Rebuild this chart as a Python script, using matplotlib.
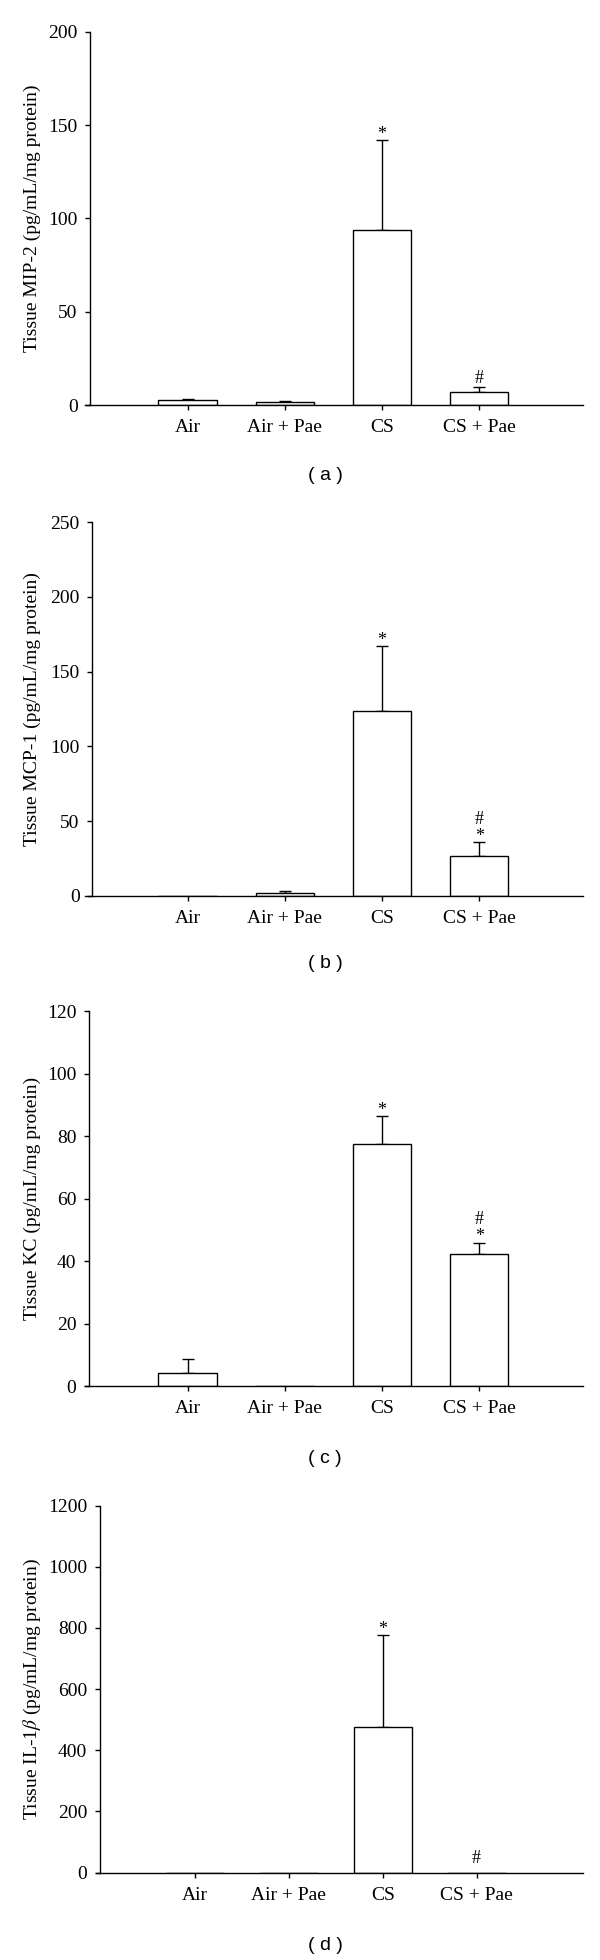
import matplotlib
matplotlib.use("Agg")
import matplotlib.pyplot as plt
import numpy as np
from matplotlib.textpath import TextPath
from matplotlib.font_manager import FontProperties

plt.rcParams['font.family'] = ['Liberation Serif', 'DejaVu Serif']
plt.rcParams['mathtext.fontset'] = 'stix'

# ---------------- data ----------------
categories = ["Air", "Air + Pae", "CS", "CS + Pae"]

mip2_mean = [2.8, 1.6, 93.6, 7.1]
mip2_err = [0.6, 0.7, 48.2, 2.7]
mip2_marks = ["", "", "*", "#"]

mcp1_mean = [0.0, 1.8, 123.9, 26.8]
mcp1_err = [0.0, 1.3, 43.1, 8.9]
mcp1_marks = ["", "", "*", "*#"]

kc_mean = [4.3, 0.0, 77.4, 42.1]
kc_err = [4.4, 0.0, 8.9, 3.8]
kc_marks = ["", "", "*", "*#"]

il1b_mean = [0.0, 0.0, 475.0, 0.0]
il1b_err = [0.0, 0.0, 300.0, 0.0]
il1b_marks = ["", "", "*", "#"]

ylabels = ["Tissue MIP-2 (pg/mL/mg protein)",
           "Tissue MCP-1 (pg/mL/mg protein)",
           "Tissue KC (pg/mL/mg protein)",
           r"Tissue IL-1$\beta$ (pg/mL/mg protein)"]
panel_tags = ["( a )", "( b )", "( c )", "( d )"]
ymaxes = [200, 250, 120, 1200]
ysteps = [50, 50, 20, 200]

# ---------------- layout (pixels) ----------------
W, H = 600, 1960
DPI = 100
fig = plt.figure(figsize=(W / DPI, H / DPI), dpi=DPI)

layout = [
    dict(left=85.4, right=583, top=31.7, bottom=405.0, yspine=90.4, x0=187.5, step=97.25, tag_y=475, width=0.6, extra=None),
    dict(left=85.4, right=583, top=522.3, bottom=895.7, yspine=92.3, x0=187.5, step=97.25, tag_y=963, width=0.6, extra=None),
    dict(left=85.4, right=583, top=1011.0, bottom=1386.0, yspine=89.2, x0=187.5, step=97.25, tag_y=1458, width=0.6, extra=None),
    dict(left=96.2, right=583, top=1505.5, bottom=1872.5, yspine=99.8, x0=195.1, step=93.8, tag_y=1945, width=0.62, extra={3: 5.5}),
]

means = [mip2_mean, mcp1_mean, kc_mean, il1b_mean]
errs = [mip2_err, mcp1_err, kc_err, il1b_err]
marks = [mip2_marks, mcp1_marks, kc_marks, il1b_marks]

FS = 14
MARK_FS = 13
LW = 1.0

mark_fp = FontProperties(family='Liberation Serif', size=MARK_FS)


def ink_center_px(ch):
    tp = TextPath((0, 0), ch, prop=mark_fp)
    bb = tp.get_extents()
    return (bb.y0 + bb.y1) / 2 * DPI / 72.0


for i in range(4):
    L = layout[i]
    ax = fig.add_axes([L['left'] / W, 1 - L['bottom'] / H,
                       (L['right'] - L['left']) / W, (L['bottom'] - L['top']) / H])
    xlo = (L['left'] - L['x0']) / L['step']
    xhi = (L['right'] - L['x0']) / L['step']
    ax.set_xlim(xlo, xhi)
    ax.set_ylim(0, ymaxes[i])
    x = np.arange(len(categories))
    m = np.array(means[i])
    e = np.array(errs[i])
    ax.bar(x, m, width=L['width'], color='white', edgecolor='black', linewidth=LW, zorder=2)
    sel = e > 0
    ax.errorbar(x[sel], m[sel], yerr=[np.zeros(sel.sum()), e[sel]], fmt='none',
                ecolor='black', elinewidth=LW, capsize=4.2, capthick=LW, zorder=1)
    # significance marks
    for j, s in enumerate(marks[i]):
        if not s:
            continue
        base = m[j] + e[j]
        center = 10.0
        if L['extra'] and j in L['extra']:
            center += L['extra'][j]
        for ch in s:
            off = center - ink_center_px(ch)
            ax.annotate(ch, xy=(x[j], base), xycoords='data', xytext=(0, off),
                        textcoords='offset pixels', ha='center', va='baseline',
                        fontproperties=mark_fp, annotation_clip=False)
            center += 14.3

    for side in ['top', 'right']:
        ax.spines[side].set_visible(False)
    ax.spines['left'].set_position(('data', (L['yspine'] - L['x0']) / L['step']))
    ax.spines['left'].set_linewidth(LW)
    ax.spines['bottom'].set_linewidth(LW)
    ax.set_yticks(np.arange(0, ymaxes[i] + 1, ysteps[i]))
    ax.set_xticks(x)
    ax.set_xticklabels(categories)
    ax.tick_params(axis='y', direction='out', length=3.7, width=LW, pad=5.5, labelsize=FS)
    ax.tick_params(axis='x', direction='out', length=3.7, width=LW, pad=6.5, labelsize=FS)

    yc = (L['top'] + L['bottom']) / 2
    fig.text(32 / W, 1 - yc / H, ylabels[i], rotation=90, ha='center', va='center', fontsize=FS)
    fig.text(325 / W, 1 - L['tag_y'] / H, panel_tags[i], ha='center', va='center',
             fontsize=14, family='Liberation Sans')

fig.savefig("out.png", dpi=DPI, facecolor='white')
